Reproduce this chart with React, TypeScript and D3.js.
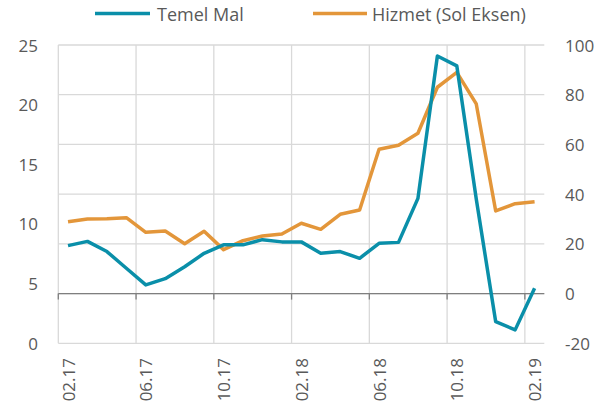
import React from 'react';
import * as d3 from 'd3';

const months = [
  '02.17', '03.17', '04.17', '05.17', '06.17', '07.17', '08.17', '09.17', '10.17', '11.17', '12.17',
  '01.18', '02.18', '03.18', '04.18', '05.18', '06.18', '07.18', '08.18', '09.18', '10.18', '11.18', '12.18',
  '01.19', '02.19',
];

// Hizmet on the left axis (0..25)
const hizmet = [
  10.19, 10.42, 10.44, 10.53, 9.3, 9.41, 8.35, 9.39, 7.85, 8.6, 8.99, 9.16, 10.06,
  9.55, 10.81, 11.17, 16.26, 16.6, 17.6, 21.46, 22.7, 20.06, 11.09, 11.7, 11.87,
];

// Temel Mal on the right axis (-20..100)
const temelMal = [
  19.3, 21.0, 16.9, 10.2, 3.5, 6.0, 10.8, 16.2, 19.6, 19.6, 21.7, 20.8, 20.8,
  16.2, 16.9, 14.2, 20.2, 20.6, 38.3, 95.6, 91.6, 38.0, -11.3, -14.6, 2.1,
];

const leftTicks = [0, 5, 10, 15, 20, 25];
const rightTicks = [-20, 0, 20, 40, 60, 80, 100];

const W = 613;
const H = 408;
const TEAL = '#0a8fa9';
const ORANGE = '#e3963a';
const GRID = '#d9d9d9';
const TEXT = '#595959';
const FONT = '"Open Sans", sans-serif';

const App: React.FC = () => {
  const left = 58.3;
  const right = 544.3;
  const top = 45;
  const bottom = 343.3;

  const x = d3.scaleBand<string>().domain(months).range([left, right]).padding(0);
  const yL = d3.scaleLinear().domain([0, 25]).range([bottom, top]);
  const yR = d3.scaleLinear().domain([-20, 100]).range([bottom, top]);
  const cx = (m: string) => (x(m) as number) + x.bandwidth() / 2;

  const hizmetLine = d3.line<number>()
    .x((_, i) => cx(months[i]))
    .y((d) => yL(d));
  const malLine = d3.line<number>()
    .x((_, i) => cx(months[i]))
    .y((d) => yR(d));

  const tickMonths = months.filter((_, i) => i % 4 === 0);
  const zeroY = yR(0);

  return (
    <svg width={W} height={H} style={{ position: 'absolute', left: 0, top: 0 }} fontFamily={FONT}>
      <rect width={W} height={H} fill="#fff" />

      {/* horizontal grid (right axis ticks) */}
      {rightTicks.map((t) => (
        <line key={t} x1={left} x2={right} y1={yR(t)} y2={yR(t)} stroke={GRID} strokeWidth={1.3} />
      ))}
      {/* vertical grid at band edges */}
      {tickMonths.map((m) => (
        <line key={m} x1={x(m)} x2={x(m)} y1={top} y2={bottom} stroke={GRID} strokeWidth={1.3} />
      ))}

      {/* zero axis with ticks */}
      <line x1={left} x2={right} y1={zeroY} y2={zeroY} stroke="#7f7f7f" strokeWidth={1.3} />
      {tickMonths.map((m) => (
        <line key={'t' + m} x1={x(m)} x2={x(m)} y1={zeroY} y2={zeroY + 6} stroke="#7f7f7f" strokeWidth={1.3} />
      ))}

      {/* series */}
      <path d={hizmetLine(hizmet) || undefined} fill="none" stroke={ORANGE} strokeWidth={3.5} strokeLinejoin="round" />
      <path d={malLine(temelMal) || undefined} fill="none" stroke={TEAL} strokeWidth={3.5} strokeLinejoin="round" />

      {/* left axis labels */}
      {leftTicks.map((t) => (
        <text key={'l' + t} x={38} y={yL(t)} textAnchor="end" dominantBaseline="central" fill={TEXT} fontSize={17}>
          {t}
        </text>
      ))}
      {/* right axis labels */}
      {rightTicks.map((t) => (
        <text key={'r' + t} x={565} y={yR(t)} textAnchor="start" dominantBaseline="central" fill={TEXT} fontSize={17}>
          {t}
        </text>
      ))}
      {/* x labels */}
      {tickMonths.map((m) => (
        <text
          key={'x' + m}
          transform={`translate(${cx(m)},358) rotate(-90)`}
          textAnchor="end"
          dominantBaseline="central"
          fill={TEXT}
          fontSize={17}
        >
          {m}
        </text>
      ))}

      {/* legend */}
      <line x1={95} x2={150} y1={13.5} y2={13.5} stroke={TEAL} strokeWidth={3.5} />
      <text x={157} y={13.5} dominantBaseline="central" fill={TEXT} fontSize={18}>Temel Mal</text>
      <line x1={313} x2={367} y1={13.5} y2={13.5} stroke={ORANGE} strokeWidth={3.5} />
      <text x={372} y={13.5} dominantBaseline="central" fill={TEXT} fontSize={18}>Hizmet (Sol Eksen)</text>
    </svg>
  );
};

export default App;
